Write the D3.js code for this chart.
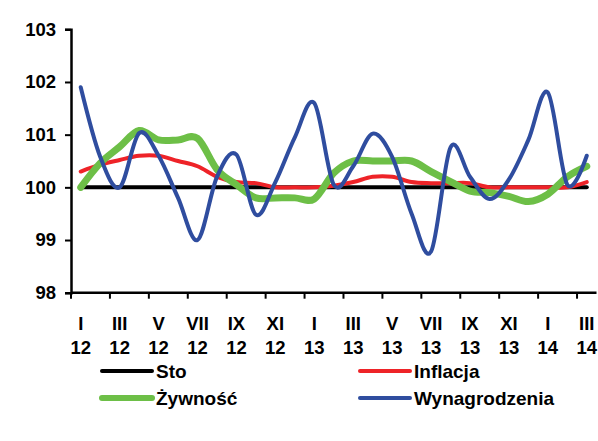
<!DOCTYPE html>
<html>
<head>
<meta charset="utf-8">
<script src="https://cdn.jsdelivr.net/npm/d3@7"></script>
<style>
  body { margin: 0; background: #fff; }
  text { font-family: Arial, "Liberation Sans", sans-serif; font-weight: bold; fill: #000; }
</style>
</head>
<body>
<svg id="chart" width="598" height="441"></svg>
<script>
// months I 2012 .. III 2014
const months = ["I","II","III","IV","V","VI","VII","VIII","IX","X","XI","XII",
                "I","II","III","IV","V","VI","VII","VIII","IX","X","XI","XII",
                "I","II","III"];
const years = ["12","12","12","12","12","12","12","12","12","12","12","12",
               "13","13","13","13","13","13","13","13","13","13","13","13",
               "14","14","14"];
const categories = months.map((m, i) => m + " " + years[i]);

const sto = categories.map(() => 100);
const inflacja = [100.3, 100.43, 100.52, 100.6, 100.6, 100.5, 100.4, 100.2, 100.1, 100.08,
                  100.0, 100.0, 100.0, 100.03, 100.1, 100.2, 100.2, 100.1, 100.08, 100.08,
                  100.08, 100.0, 100.0, 100.0, 100.0, 100.0, 100.1];
const zywnosc = [100.0, 100.46, 100.77, 101.08, 100.9, 100.9, 100.93, 100.34, 100.05, 99.8,
                 99.8, 99.8, 99.78, 100.27, 100.5, 100.5, 100.5, 100.5, 100.3, 100.11,
                 99.93, 99.9, 99.83, 99.73, 99.87, 100.2, 100.4];
const wynagrodzenia = [101.9, 100.58, 100.0, 101.03, 100.6, 99.8, 99.0, 100.2, 100.62, 99.48,
                       100.1, 100.95, 101.6, 100.05, 100.4, 101.02, 100.58, 99.5, 98.78, 100.76,
                       100.2, 99.78, 100.15, 100.9, 101.8, 100.05, 100.6];
const yTicks = [98, 99, 100, 101, 102, 103];

const seriesNames = ["Sto", "Inflacja", "Żywność", "Wynagrodzenia"];
const seriesData = [sto, inflacja, zywnosc, wynagrodzenia];
const seriesColors = ["#000000", "#ee2328", "#6dbf47", "#2f4d9f"];
const seriesWidths = [4, 4, 7, 4];

let svg = d3.select("#chart");

let x = d3.scaleBand()
    .domain(categories)
    .range([71, 596.5])
    .padding(0);

let y = d3.scaleLinear()
    .domain([98, 103])
    .range([292.7, 29.3]);

// y axis
let yAxis = d3.axisLeft(y)
    .tickValues(yTicks)
    .tickSize(6)
    .tickPadding(9)
    .tickFormat(d3.format("d"));

let gy = svg.append("g")
    .attr("transform", "translate(71,0)")
    .call(yAxis);
gy.select(".domain").attr("stroke", "#000").attr("stroke-width", 2.5);
gy.selectAll(".tick line").attr("stroke", "#000").attr("stroke-width", 2);
gy.selectAll(".tick text")
    .style("font-size", "18.5px")
    .attr("fill", "#000");

// x axis: ticks between every other category
let gx = svg.append("g");
gx.append("line")
    .attr("x1", x.range()[0]).attr("x2", x.range()[1])
    .attr("y1", y(98)).attr("y2", y(98))
    .attr("stroke", "#000").attr("stroke-width", 2.5);

let labelled = categories.filter((c, i) => i % 2 === 0);
gx.selectAll(".xtick")
    .data(labelled)
    .enter()
    .append("line")
    .attr("class", "xtick")
    .attr("x1", d => x(d)).attr("x2", d => x(d))
    .attr("y1", y(98)).attr("y2", y(98) + 6)
    .attr("stroke", "#000").attr("stroke-width", 2);

let lab = gx.selectAll(".xlab")
    .data(labelled)
    .enter()
    .append("text")
    .attr("class", "xlab")
    .attr("text-anchor", "middle")
    .style("font-size", "18.5px");
lab.append("tspan")
    .attr("x", d => x(d) + x.bandwidth() / 2)
    .attr("y", 330)
    .text(d => d.split(" ")[0]);
lab.append("tspan")
    .attr("x", d => x(d) + x.bandwidth() / 2)
    .attr("y", 354)
    .text(d => d.split(" ")[1]);

// series lines (Excel-like smoothing)
let line = d3.line()
    .x((d, i) => x(categories[i]) + x.bandwidth() / 2)
    .y(d => y(d))
    .curve(d3.curveCardinal.tension(0));

svg.append("g")
    .selectAll("path")
    .data(seriesData)
    .enter()
    .append("path")
    .attr("d", d => line(d))
    .attr("fill", "none")
    .attr("stroke", (d, i) => seriesColors[i])
    .attr("stroke-width", (d, i) => seriesWidths[i])
    .attr("stroke-linejoin", "round")
    .attr("stroke-linecap", "round");

// legend, two columns
let legendPos = [[102, 371], [360, 371], [102, 398], [360, 398]];
let legend = svg.append("g")
    .selectAll("g")
    .data(seriesNames)
    .enter()
    .append("g")
    .attr("transform", (d, i) => "translate(" + legendPos[i][0] + "," + legendPos[i][1] + ")");
legend.append("line")
    .attr("x1", 0).attr("x2", 50)
    .attr("y1", 0).attr("y2", 0)
    .attr("stroke", (d, i) => seriesColors[i])
    .attr("stroke-width", (d, i) => seriesWidths[i] === 7 ? 6 : 4)
    .attr("stroke-linecap", "round");
legend.append("text")
    .attr("x", 54)
    .attr("y", 7)
    .style("font-size", "19px")
    .text(d => d);
</script>
</body>
</html>
